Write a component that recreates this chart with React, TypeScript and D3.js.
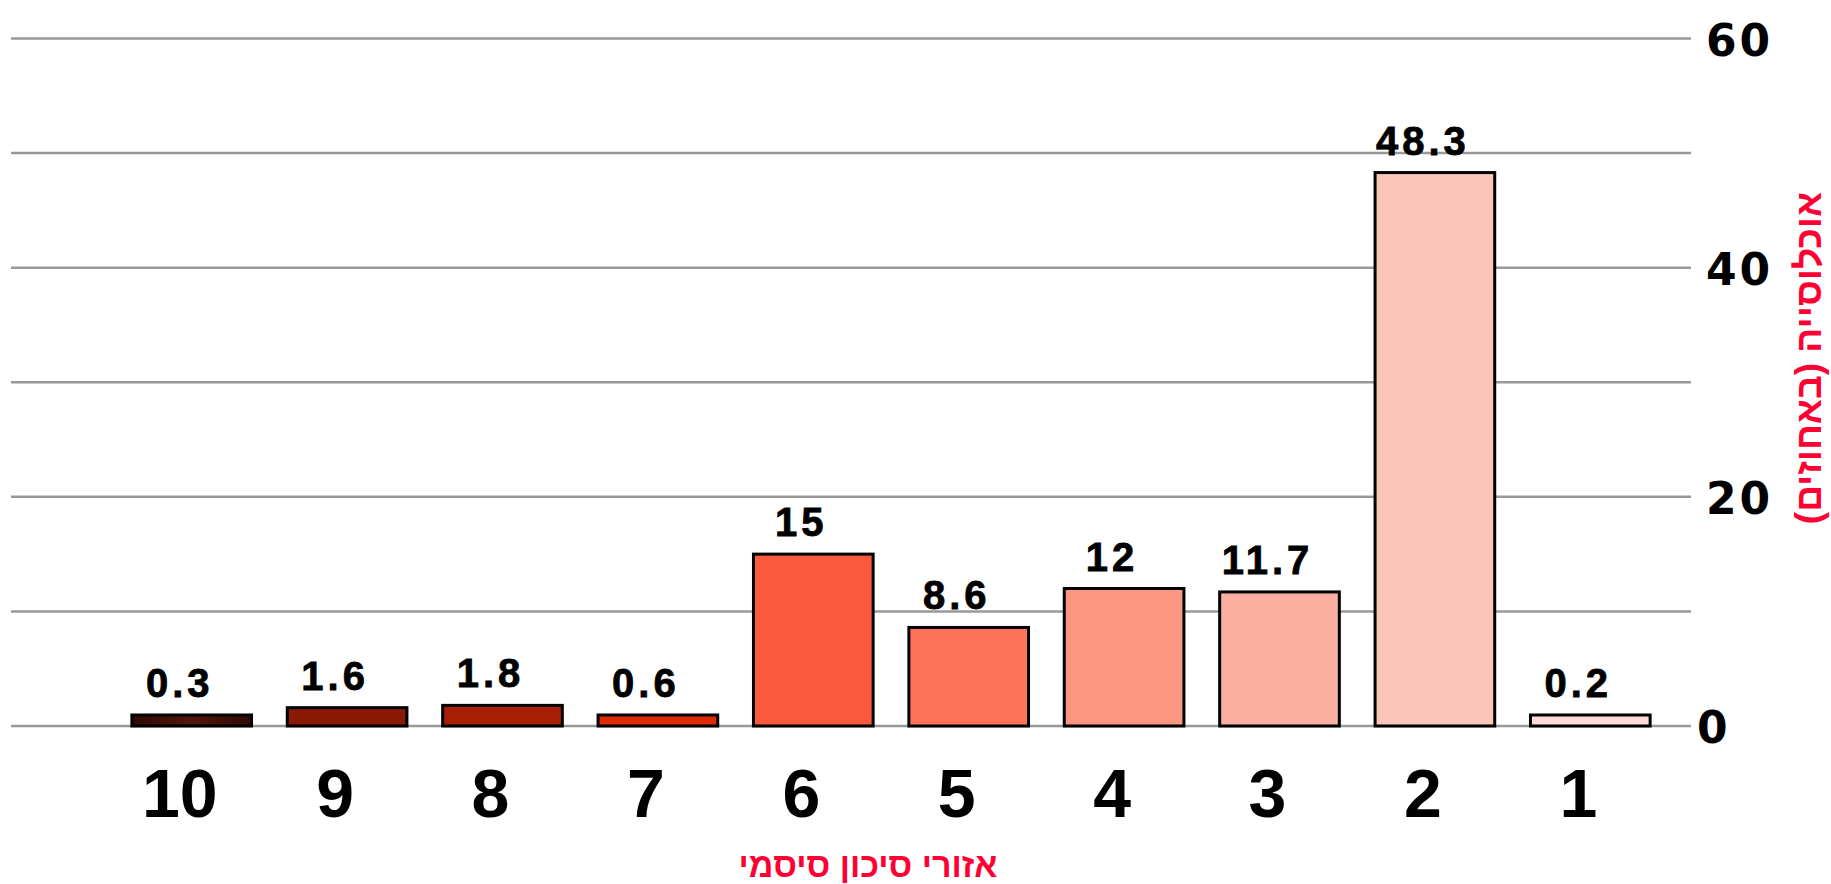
import React from "react";
import { scaleBand, scaleLinear } from "d3";

// seismic risk zones, shown right-to-left (10 on the left)
const zones = ["10", "9", "8", "7", "6", "5", "4", "3", "2", "1"];
const population = [0.3, 1.6, 1.8, 0.6, 15, 8.6, 12, 11.7, 48.3, 0.2];
const yTicks = [0, 10, 20, 30, 40, 50, 60];
const yTickLabels = [0, 20, 40, 60];

const barColors = [
    "url(#darkBar)",
    "#8a1a04",
    "#a81e06",
    "#e02a06",
    "#fc5a3c",
    "#fd7258",
    "#fb9680",
    "#fcaea0",
    "#fbc5ba",
    "#fedbd6",
];

const xTitle = "אזורי סיכון סיסמי";
const yTitle = "אוכלוסייה (באחוזים)";

export default function App() {
    const width = 1831;
    const height = 884;

    const x = scaleBand<string>()
        .domain(zones)
        .range([114, 1668])
        .paddingInner(0.23)
        .paddingOuter(0.115);

    const y = scaleLinear().domain([0, 60]).range([726, 38.5]);

    const minBar = 11; // tiny values still get a visible bar

    return (
        <div>
            <style>{`body{margin:0}`}</style>
            <svg width={width} height={height} style={{ display: "block", background: "#fff" }}>
                <defs>
                    <linearGradient id="darkBar" x1="0" x2="1" y1="0" y2="0">
                        <stop offset="0%" stopColor="#2e0904" />
                        <stop offset="50%" stopColor="#55150a" />
                        <stop offset="100%" stopColor="#2e0904" />
                    </linearGradient>
                </defs>

                {/* gridlines */}
                {yTicks.map((t) => (
                    <line
                        key={t}
                        x1={11}
                        x2={1691}
                        y1={y(t)}
                        y2={y(t)}
                        stroke="#999"
                        strokeWidth={2.5}
                    />
                ))}

                {/* y tick labels on the right */}
                {yTickLabels.map((t) => (
                    <text
                        key={t}
                        x={t === 0 ? 1697 : 1706}
                        y={y(t) + 17}
                        fontFamily="DejaVu Sans"
                        fontWeight="bold"
                        fontSize={44}
                        letterSpacing={3}
                        fill="#000"
                    >
                        {t}
                    </text>
                ))}

                {/* bars */}
                {zones.map((z, i) => {
                    const h = Math.max(y(0) - y(population[i]), minBar);
                    const top = y(0) - h;
                    const cx = (x(z) as number) + x.bandwidth() / 2;
                    return (
                        <g key={z}>
                            <rect
                                x={x(z)}
                                y={top}
                                width={x.bandwidth()}
                                height={h}
                                fill={barColors[i]}
                                stroke="#000"
                                strokeWidth={3}
                            />
                            <text
                                x={cx - 12}
                                y={top - 18}
                                textAnchor="middle"
                                fontFamily="Liberation Sans"
                                fontWeight="bold"
                                fontSize={40}
                                letterSpacing={4}
                                stroke="#000"
                                strokeWidth={0.8}
                                fill="#000"
                            >
                                {population[i]}
                            </text>
                            <text
                                x={cx - 12}
                                y={817}
                                textAnchor="middle"
                                fontFamily="Liberation Sans"
                                fontWeight="bold"
                                fontSize={68}
                                fill="#000"
                            >
                                {z}
                            </text>
                        </g>
                    );
                })}

                {/* axis titles */}
                <text
                    x={868}
                    y={877}
                    textAnchor="middle"
                    direction="rtl"
                    fontFamily="Liberation Sans"
                    fontWeight="bold"
                    fontSize={34}
                    fill="#ff0033"
                >
                    {xTitle}
                </text>
                <text
                    transform="translate(1821,358) rotate(-90)"
                    textAnchor="middle"
                    direction="rtl"
                    fontFamily="Liberation Sans"
                    fontWeight="bold"
                    fontSize={37}
                    fill="#ff0033"
                >
                    {yTitle}
                </text>
            </svg>
        </div>
    );
}
